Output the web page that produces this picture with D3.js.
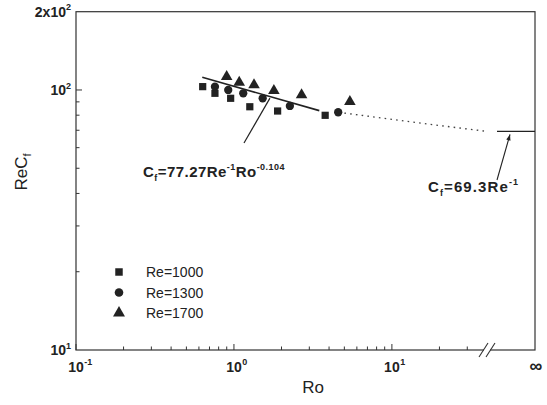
<!DOCTYPE html>
<html>
<head>
<meta charset="utf-8">
<script src="https://cdn.jsdelivr.net/npm/d3@7"></script>
<style>
  body { margin: 0; background: #fff; }
  svg { display: block; }
</style>
</head>
<body>
<svg id="chart" width="547" height="405"></svg>
<script>
// ── Data ──
const seriesNames = ["Re=1000", "Re=1300", "Re=1700"];
const ro1000   = [0.634, 0.758, 0.953, 1.26, 1.89, 3.78];
const recf1000 = [103, 97.1, 92.9, 86.2, 83.0, 79.9];
const ro1300   = [0.758, 0.920, 1.145, 1.52, 2.26, 4.57];
const recf1300 = [103, 100, 97.1, 92.9, 86.8, 82.1];
const ro1700   = [0.899, 1.08, 1.34, 1.79, 2.68, 5.42];
const recf1700 = [112.5, 107, 104.5, 99.4, 95.7, 90.2];

// correlation line through the data and dotted continuation towards Ro -> inf
const fitRo   = [0.63, 3.47];
const fitReCf = [111.9, 83.3];
const tailRo   = [5, 10, 20, 40];
const tailReCf = [81.5, 77.1, 73.0, 69.3];
const asymptoteReCf = 69.3;

const xTickValues = [0.1, 1, 10];
const xTickExps   = ["-1", "0", "1"];
const yTickValues = [200, 100, 10];
const yTickBases  = ["2x10", "10", "10"];
const yTickExps   = ["2", "2", "1"];

// ── Setup ──
const svg = d3.select("#chart");
const FONT = '"Liberation Sans", Arial, Helvetica, sans-serif';
const INK = "#222";

const mLeft = 76, mRight = 535, mTop = 11.7, mBottom = 350;
const xBreak = 487;

const x = d3.scaleLog().domain([0.1, 40]).range([mLeft, xBreak]);
const y = d3.scaleLog().domain([10, 200]).range([mBottom, mTop]);

// small helper: text made of normal / sup / sub pieces
function richText(sel, parts, size, supSize) {
    let shift = 0;
    parts.forEach(p => {
        const target = p.sup ? -size * 0.45 : p.sub ? size * 0.25 : 0;
        sel.append("tspan")
            .attr("dy", target - shift)
            .style("font-size", (p.sup || p.sub ? supSize : size) + "px")
            .text(p.t);
        shift = target;
    });
    return sel;
}

// ── Frame ──
svg.append("rect")
    .attr("x", mLeft).attr("y", mTop)
    .attr("width", mRight - mLeft).attr("height", mBottom - mTop)
    .attr("fill", "none").attr("stroke", "#333").attr("stroke-width", 1.2);

// ── Ticks (inward) ──
const xt = x.ticks().filter(v => v <= 30);
svg.append("g").selectAll("line")
    .data(xt)
    .join("line")
    .attr("x1", d => x(d)).attr("x2", d => x(d))
    .attr("y1", mBottom)
    .attr("y2", d => mBottom - (xTickValues.includes(d) ? 6 : 3.5))
    .attr("stroke", "#333").attr("stroke-width", 1);

const yt = y.ticks().filter(v => v > 10 && v <= 100);
svg.append("g").selectAll("line")
    .data(yt)
    .join("line")
    .attr("y1", d => y(d)).attr("y2", d => y(d))
    .attr("x1", mLeft)
    .attr("x2", d => mLeft + (d === 100 ? 6 : 3.5))
    .attr("stroke", "#333").attr("stroke-width", 1);

// ── Axis break + infinity ──
svg.append("rect")
    .attr("x", xBreak - 3).attr("y", mBottom - 2)
    .attr("width", 6).attr("height", 4)
    .attr("fill", "#fff");
[-3.5, 3.5].forEach(off => {
    svg.append("line")
        .attr("x1", xBreak + off - 4.5).attr("y1", mBottom + 7)
        .attr("x2", xBreak + off + 4.5).attr("y2", mBottom - 7)
        .attr("stroke", "#333").attr("stroke-width", 1.1);
});

// ── Tick labels ──
xTickValues.forEach((v, i) => {
    const base = svg.append("text")
        .attr("x", x(v)).attr("y", 372)
        .attr("text-anchor", "middle")
        .style("font-family", FONT).style("font-weight", "bold")
        .style("font-size", "14px").attr("fill", INK)
        .text("10");
    const w = base.node().getComputedTextLength();
    svg.append("text")
        .attr("x", x(v) + w / 2 + 0.5).attr("y", 365)
        .style("font-family", FONT).style("font-weight", "bold")
        .style("font-size", "9px").attr("fill", INK)
        .text(xTickExps[i]);
});
svg.append("text")
    .attr("x", mRight + 1).attr("y", 372)
    .attr("text-anchor", "middle")
    .style("font-family", FONT).style("font-weight", "bold")
    .style("font-size", "18px").attr("fill", INK)
    .text("\u221E");

yTickValues.forEach((v, i) => {
    const t = svg.append("text")
        .attr("x", 71).attr("y", y(v) + 5)
        .attr("text-anchor", "end")
        .style("font-family", FONT).style("font-weight", "bold")
        .attr("fill", INK);
    richText(t, [{ t: yTickBases[i] }, { t: yTickExps[i], sup: true }], 14, 9);
});

// ── Axis titles ──
svg.append("text")
    .attr("x", 313).attr("y", 393)
    .attr("text-anchor", "middle")
    .style("font-family", FONT).style("font-size", "17px").attr("fill", INK)
    .text("Ro");

const yTitle = svg.append("text")
    .attr("transform", "translate(27,172) rotate(-90)")
    .attr("text-anchor", "middle")
    .style("font-family", FONT).attr("fill", INK);
richText(yTitle, [{ t: "ReC" }, { t: "f", sub: true }], 17, 11);

// ── Lines ──
const line = d3.line().x(d => x(d[0])).y(d => y(d[1]));

svg.append("path")
    .datum(d3.zip(fitRo, fitReCf))
    .attr("d", line)
    .attr("fill", "none").attr("stroke", INK).attr("stroke-width", 1.6);

svg.append("path")
    .datum(d3.zip(tailRo, tailReCf))
    .attr("d", line)
    .attr("fill", "none").attr("stroke", "#444")
    .attr("stroke-width", 1.4).attr("stroke-dasharray", "1.6,4.2");

svg.append("line")
    .attr("x1", xBreak + 10).attr("x2", mRight)
    .attr("y1", y(asymptoteReCf)).attr("y2", y(asymptoteReCf))
    .attr("stroke", INK).attr("stroke-width", 1.3);

// ── Markers ──
const series = [
    { name: seriesNames[0], ro: ro1000, v: recf1000, sym: d3.symbolSquare,   size: 52 },
    { name: seriesNames[1], ro: ro1300, v: recf1300, sym: d3.symbolCircle,   size: 54 },
    { name: seriesNames[2], ro: ro1700, v: recf1700, sym: d3.symbolTriangle, size: 58 }
];

series.forEach(s => {
    svg.append("g").selectAll("path")
        .data(d3.zip(s.ro, s.v))
        .join("path")
        .attr("transform", d => `translate(${x(d[0])},${y(d[1])})`)
        .attr("d", d3.symbol().type(s.sym).size(s.size))
        .attr("fill", INK);
});

// ── Legend ──
series.forEach((s, i) => {
    const ly = 272 + i * 20.5;
    svg.append("path")
        .attr("transform", `translate(119,${ly})`)
        .attr("d", d3.symbol().type(s.sym).size(s.size + 4))
        .attr("fill", INK);
    svg.append("text")
        .attr("x", 146).attr("y", ly + 5)
        .style("font-family", FONT).style("font-size", "14px").attr("fill", INK)
        .text(s.name);
});

// ── Annotations ──
svg.append("line")
    .attr("x1", 244).attr("y1", 143)
    .attr("x2", x(1.69)).attr("y2", y(93))
    .attr("stroke", INK).attr("stroke-width", 1.2);

const lab1 = svg.append("text")
    .attr("x", 143).attr("y", 177)
    .style("font-family", FONT).style("font-weight", "bold")
    .style("letter-spacing", "0.45px").attr("fill", INK);
richText(lab1, [
    { t: "C" }, { t: "f", sub: true }, { t: "=77.27Re" }, { t: "-1", sup: true },
    { t: "Ro" }, { t: "-0.104", sup: true }
], 15, 9);

// arrow pointing at the Ro -> inf asymptote
const ax1 = 497, ay1 = 180, ax2 = 510, ay2 = y(asymptoteReCf) + 3;
svg.append("line")
    .attr("x1", ax1).attr("y1", ay1).attr("x2", ax2).attr("y2", ay2)
    .attr("stroke", INK).attr("stroke-width", 1.1);
const ang = Math.atan2(ay2 - ay1, ax2 - ax1);
const hl = 6, hw = 2.2;
svg.append("path")
    .attr("d", `M${ax2},${ay2}` +
        `L${ax2 - hl * Math.cos(ang) + hw * Math.sin(ang)},${ay2 - hl * Math.sin(ang) - hw * Math.cos(ang)}` +
        `L${ax2 - hl * Math.cos(ang) - hw * Math.sin(ang)},${ay2 - hl * Math.sin(ang) + hw * Math.cos(ang)}Z`)
    .attr("fill", INK);

const lab2 = svg.append("text")
    .attr("x", 428).attr("y", 192)
    .style("font-family", FONT).style("font-weight", "bold")
    .style("letter-spacing", "1.1px").attr("fill", INK);
richText(lab2, [
    { t: "C" }, { t: "f", sub: true }, { t: "=69.3Re" }, { t: "-1", sup: true }
], 15, 9);
</script>
</body>
</html>
